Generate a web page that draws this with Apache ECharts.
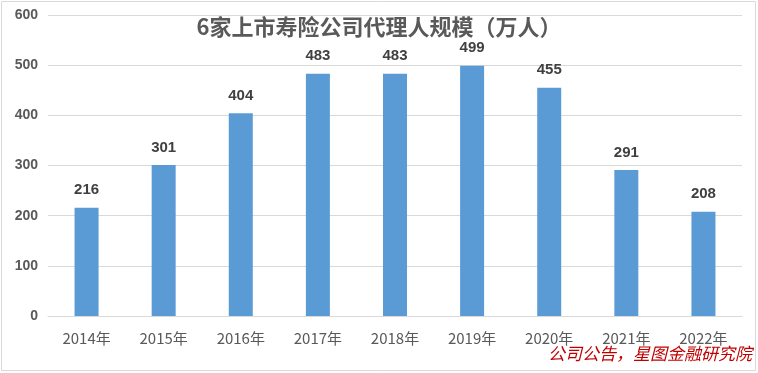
<!DOCTYPE html>
<html><head><meta charset="utf-8">
<script src="https://cdn.jsdelivr.net/npm/echarts@6/dist/echarts.min.js"></script>
<style>html,body{margin:0;padding:0;background:#fff}#c{width:758px;height:373px}</style>
</head><body><div id="c"></div>
<script>
const categories = ['2014年','2015年','2016年','2017年','2018年','2019年','2020年','2021年','2022年'];
const agents = [216,301,404,483,483,499,455,291,208];
const titleText = '6家上市寿险公司代理人规模（万人）';
const sourceText = '公司公告，星图金融研究院';

const chart = echarts.init(document.getElementById('c'));
chart.setOption({
  animation:false,
  backgroundColor:'#fff',
  title:{text:titleText,left:'center',top:11,
    textStyle:{fontFamily:'Noto Sans CJK SC',fontWeight:'bold',fontSize:22,color:'#595959'}},
  grid:{left:48,right:16,top:15,bottom:57},
  xAxis:{type:'category',data:categories,
    axisLine:{lineStyle:{color:'#d9d9d9'}},axisTick:{show:false},
    axisLabel:{color:'#595959',fontSize:15,margin:15,fontFamily:'Noto Sans CJK SC'}},
  yAxis:{type:'value',min:0,max:600,interval:100,
    axisLine:{show:false},axisTick:{show:false},
    splitLine:{lineStyle:{color:'#d9d9d9'}},
    axisLabel:{color:'#595959',fontSize:14,fontWeight:'bold',margin:10,fontFamily:'Liberation Sans'}},
  series:[{type:'bar',data:agents,barWidth:24,
    itemStyle:{color:'#5B9BD5'},
    label:{show:true,position:'top',distance:10,color:'#404040',fontSize:15,fontWeight:'bold',fontFamily:'Liberation Sans'}}],
  graphic:[
    {type:'rect',shape:{x:1.5,y:1.5,width:754,height:369},style:{fill:'none',stroke:'#d9d9d9',lineWidth:1},silent:true},
    {type:'text',right:6,top:345,style:{text:sourceText,fill:'#c00000',fontSize:17,fontStyle:'italic',fontFamily:'Noto Sans CJK SC'}}
  ]
});
</script></body></html>
